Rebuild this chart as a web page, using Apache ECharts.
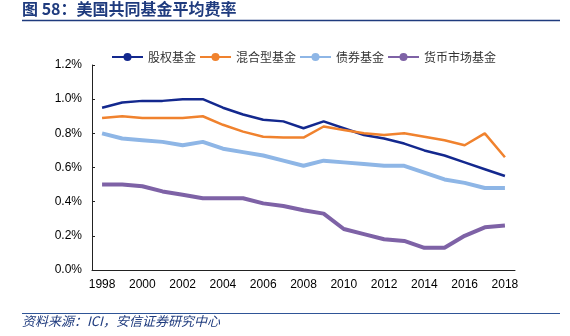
<!DOCTYPE html>
<html>
<head>
<meta charset="utf-8">
<script src="https://cdn.jsdelivr.net/npm/echarts@6/dist/echarts.min.js"></script>
<style>
  html, body { margin: 0; padding: 0; background: #fff; }
  #chart { width: 570px; height: 336px; }
</style>
</head>
<body>
<div id="chart"></div>
<script>
// Years on the horizontal axis
const years = ['1998','1999','2000','2001','2002','2003','2004','2005','2006','2007','2008',
               '2009','2010','2011','2012','2013','2014','2015','2016','2017','2018'];

// Average expense ratios (%)
const equityFunds = [0.95,0.98,0.99,0.99,1.00,1.00,0.95,0.91,0.88,0.87,0.83,
                     0.87,0.83,0.79,0.77,0.74,0.70,0.67,0.63,0.59,0.55];
const hybridFunds = [0.89,0.90,0.89,0.89,0.89,0.90,0.85,0.81,0.78,0.775,0.775,
                     0.84,0.82,0.80,0.79,0.80,0.78,0.76,0.73,0.80,0.66];
const bondFunds   = [0.80,0.77,0.76,0.75,0.73,0.75,0.71,0.69,0.67,0.64,0.61,
                     0.64,0.63,0.62,0.61,0.61,0.57,0.53,0.51,0.48,0.48];
const moneyFunds  = [0.50,0.50,0.49,0.46,0.44,0.42,0.42,0.42,0.39,0.375,0.35,
                     0.33,0.24,0.21,0.18,0.17,0.13,0.13,0.20,0.25,0.26];

const seriesNames = ['股权基金','混合型基金','债券基金','货币市场基金'];
const yTicks = [0, 0.2, 0.4, 0.6, 0.8, 1.0, 1.2];

const chart = echarts.init(document.getElementById('chart'), null, { renderer: 'canvas' });

const latin = 'Liberation Sans, Arial, sans-serif';
const cjk = '"Noto Sans CJK SC", sans-serif';
const navy = '#1F3B7E';

function line(name, data, color, width) {
  return {
    name: name,
    type: 'line',
    data: data,
    symbol: 'none',
    smooth: false,
    lineStyle: { color: color, width: width },
    itemStyle: { color: color },
    z: 3
  };
}

chart.setOption({
  animation: false,
  backgroundColor: '#fff',
  grid: { left: 92, right: 55, top: 65, bottom: 66 },
  legend: {
    data: seriesNames,
    left: 106,
    top: 46,
    itemWidth: 31,
    itemHeight: 10,
    itemGap: 3,
    textStyle: { fontFamily: cjk, fontSize: 12, color: '#333' }
  },
  xAxis: {
    type: 'category',
    data: years,
    boundaryGap: true,
    axisLine: { lineStyle: { color: '#222', width: 1 } },
    axisTick: { inside: true, length: 3, interval: 0, alignWithLabel: false, lineStyle: { color: '#222' } },
    axisLabel: { interval: 1, margin: 9, fontFamily: latin, fontSize: 12, color: '#000' },
    splitLine: { show: false }
  },
  yAxis: {
    type: 'value',
    min: yTicks[0],
    max: yTicks[yTicks.length - 1],
    interval: 0.2,
    axisLine: { show: true, lineStyle: { color: '#222', width: 1 } },
    axisTick: { show: true, inside: true, length: 3, lineStyle: { color: '#222' } },
    axisLabel: {
      margin: 10,
      fontFamily: latin,
      fontSize: 12,
      color: '#000',
      formatter: function (v) { return v.toFixed(1) + '%'; }
    },
    splitLine: { show: false }
  },
  series: [
    line(seriesNames[0], equityFunds, '#13288E', 2.5),
    line(seriesNames[1], hybridFunds, '#F0822E', 2.5),
    line(seriesNames[2], bondFunds, '#8EB6E6', 4),
    line(seriesNames[3], moneyFunds, '#7E62A6', 4)
  ],
  graphic: [
    {
      type: 'text',
      left: 22,
      top: 1,
      style: {
        text: '图 58：美国共同基金平均费率',
        fontFamily: cjk,
        fontSize: 16,
        fontWeight: 'bold',
        fill: navy
      }
    },
    {
      type: 'line',
      shape: { x1: 22, y1: 20.5, x2: 560, y2: 20.5 },
      style: { stroke: navy, lineWidth: 1.5 }
    },
    {
      type: 'line',
      shape: { x1: 22, y1: 313.5, x2: 560, y2: 313.5 },
      style: { stroke: '#2F5597', lineWidth: 1.2 }
    },
    {
      type: 'text',
      left: 22,
      top: 315,
      style: {
        text: '资料来源：ICI，安信证券研究中心',
        fontFamily: cjk,
        fontSize: 13,
        fontStyle: 'italic',
        fill: navy
      }
    }
  ]
});
</script>
</body>
</html>
